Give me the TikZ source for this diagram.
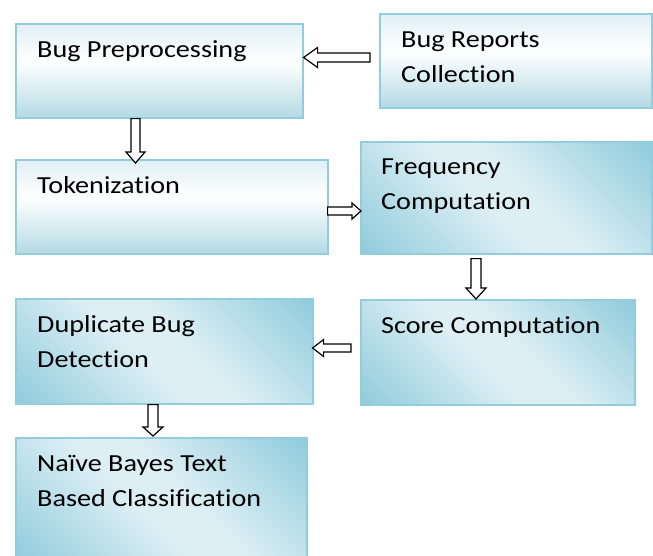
\documentclass[tikz,border=0pt]{standalone}
\usepackage{fontspec}
\setmainfont[FakeStretch=1.15,Ligatures=NoCommon]{Carlito}
\usetikzlibrary{calc}
\definecolor{bordc}{HTML}{93CDDD}
\definecolor{dk}{HTML}{93CDDD}
\definecolor{lt}{HTML}{DDEFF4}
\definecolor{vtop}{HTML}{E0F0F5}
\definecolor{vbot}{HTML}{B3DAE4}
\pgfdeclareverticalshading{vgrad}{100bp}{color(0bp)=(vbot); color(25bp)=(vbot); color(55bp)=(white); color(75bp)=(vtop); color(100bp)=(vtop)}
\pgfdeclareverticalshading{dgrad}{100bp}{color(0bp)=(dk); color(16bp)=(dk); color(45bp)=(lt); color(55bp)=(lt); color(84bp)=(dk); color(100bp)=(dk)}
\tikzset{
 box/.style={draw=bordc, line width=1.6pt, anchor=north west, inner sep=0pt, shade},
 vbox/.style={box, shading=vgrad},
 dbox/.style={box, shading=dgrad, shading angle=-45},
 lbl/.style={anchor=base west, align=left, inner sep=0pt, font=\fontsize{24.5}{35}\selectfont},
 barrow/.style={draw=black, fill=white, line width=1.2pt, line join=miter}
}
% #1 tail, #2 tip, #3 shaft half width, #4 head length, #5 head half width
\newcommand\blockarrow[5]{%
 \draw[barrow] let \p1=(#1), \p2=(#2), \n1={veclen(\x2-\x1,\y2-\y1)},
   \n2={(\x2-\x1)/\n1}, \n3={(\y2-\y1)/\n1} in
   ({\x1-\n3*#3pt},{\y1+\n2*#3pt})
   -- ({\x2-\n2*#4pt-\n3*#3pt},{\y2-\n3*#4pt+\n2*#3pt})
   -- ({\x2-\n2*#4pt-\n3*#5pt},{\y2-\n3*#4pt+\n2*#5pt})
   -- (\p2)
   -- ({\x2-\n2*#4pt+\n3*#5pt},{\y2-\n3*#4pt-\n2*#5pt})
   -- ({\x2-\n2*#4pt+\n3*#3pt},{\y2-\n3*#4pt-\n2*#3pt})
   -- ({\x1+\n3*#3pt},{\y1-\n2*#3pt}) -- cycle;}
\begin{document}
\begin{tikzpicture}[x=1pt,y=-1pt]
\useasboundingbox (0,0) rectangle (653,555);
% boxes
\node[vbox, minimum width=287pt, minimum height=94pt] (bp) at (15,23) {};
\node[vbox, minimum width=272pt, minimum height=94pt] (br) at (379,13) {};
\node[vbox, minimum width=312pt, minimum height=94pt] (tk) at (15,159) {};
\node[dbox, minimum width=291pt, minimum height=112pt] (fq) at (360,141) {};
\node[dbox, minimum width=274pt, minimum height=105pt] (sc) at (360,299) {};
\node[dbox, minimum width=297pt, minimum height=105pt] (dp) at (15,298) {};
\node[dbox, minimum width=291pt, minimum height=125pt] (nb) at (15,437) {};
% labels (multi-line labels are anchored at the baseline of their last line)
\node[lbl] (tbp) at ($(bp.north west)+(22,34)$) {Bug Preprocessing};
\node[lbl] (tbr) at ($(br.north west)+(22,69)$) {Bug Reports\\Collection};
\node[lbl] (ttk) at ($(tk.north west)+(22,34)$) {Tokenization};
\node[lbl] (tfq) at ($(fq.north west)+(21,68)$) {Frequency\\Computation};
\node[lbl] (tsc) at ($(sc.north west)+(21,34)$) {Score Computation};
\node[lbl] (tdp) at ($(dp.north west)+(22,69)$) {Duplicate Bug\\Detection};
\node[lbl] (tnb) at ($(nb.north west)+(22,69)$) {Naïve Bayes Text\\Based Classification};
% arrows
\blockarrow{$(br.north west)+(-9,44.5)$}{$(bp.north east)+(0,34.5)$}{4.5}{14}{10}
\blockarrow{$(bp.south west)+(120.5,0)$}{$(tk.north west)+(120.5,4)$}{4.5}{11}{9.5}
\blockarrow{$(tk.north east)+(-1,52)$}{$(fq.north west)+(1,70)$}{4}{9}{8}
\blockarrow{$(fq.south west)+(116,4)$}{$(sc.north west)+(116,0)$}{5}{11}{10}
\blockarrow{$(sc.north west)+(-9,49)$}{$(dp.north east)+(-1,50)$}{4}{11}{8.5}
\blockarrow{$(dp.south west)+(138,0)$}{$(nb.north west)+(138,-1)$}{5}{9}{10}
\end{tikzpicture}
\end{document}
